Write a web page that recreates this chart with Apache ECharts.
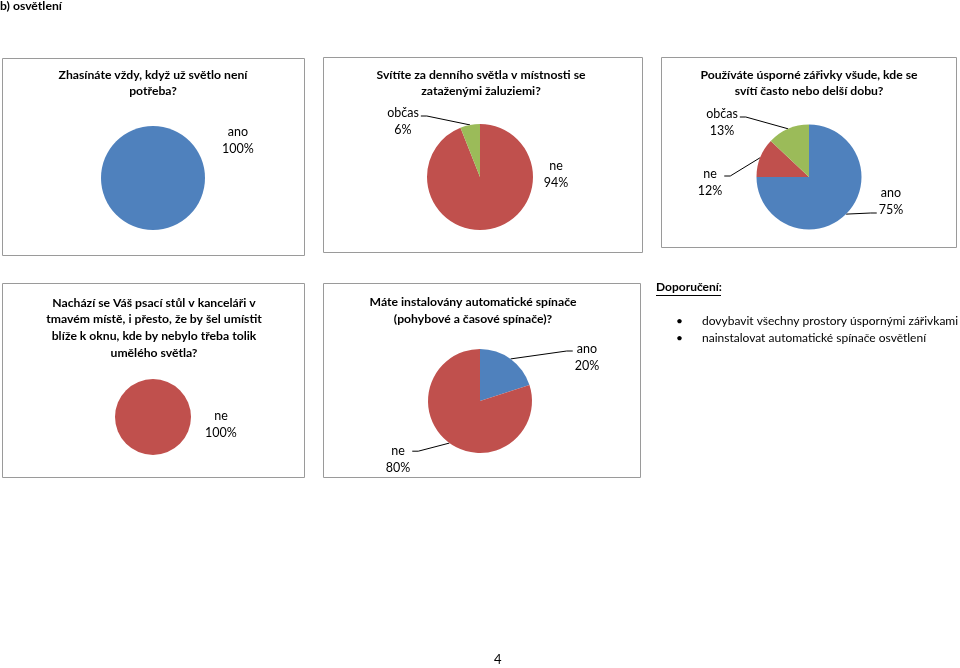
<!DOCTYPE html>
<html>
<head>
<meta charset="utf-8">
<script src="https://cdn.jsdelivr.net/npm/echarts@6/dist/echarts.min.js"></script>
<style>
  html, body { margin: 0; padding: 0; background: #fff; }
  #chart { width: 960px; height: 668px; }
</style>
</head>
<body>
<div id="chart"></div>
<script>
// answers shared by all questions, values in percent
var answers = ['ano', 'ne', 'občas'];
var q1Values = [100, 0, 0];
var q2Values = [0, 94, 6];
var q3Values = [75, 12, 13];
var q4Values = [0, 100, 0];
var q5Values = [20, 80, 0];

var titles = [
    'Zhasínáte vždy, když už světlo není\npotřeba?',
    'Svítíte za denního světla v místnosti se\nzataženými žaluziemi?',
    'Používáte úsporné zářivky všude, kde se\nsvítí často nebo delší dobu?',
    'Nachází se Váš psací stůl v kanceláři v\ntmavém místě, i přesto, že by šel umístit\nblíže k oknu, kde by nebylo třeba tolik\numělého světla?',
    'Máte instalovány automatické spínače\n(pohybové a časové spínače)?'
];
var heading = 'b) osvětlení';
var recoTitle = 'Doporučení:';
var recoItems = [
    'dovybavit všechny prostory úspornými zářivkami',
    'nainstalovat automatické spínače osvětlení'
];
var pageNo = '4';

var colors = { 'ano': '#4F81BD', 'ne': '#C0504D', 'občas': '#9BBB59' };
var font = 'Lato';
var labelLH = 17;

// layout of the panels (label spot = centre of the two-line label, dy = leader y from first line centre)
var panels = [
    { box: [2, 58, 302, 197], title: [153, 66.5], center: [153, 178], r: 52,
      spots: { 'ano': { at: [238, 140] } } },
    { box: [323, 57, 319, 195], title: [481, 66.5], center: [480, 177], r: 53,
      spots: { 'ne': { at: [556, 174] }, 'občas': { at: [403, 121.5], side: 'r', dy: 3 } } },
    { box: [661, 57, 295, 190], title: [809, 66.5], center: [809, 177], r: 52.5,
      spots: { 'ano': { at: [891, 201], side: 'l', dy: 20.5 }, 'ne': { at: [710, 182.5], side: 'r', dy: 2 },
               'občas': { at: [722, 122.5], side: 'r', dy: 3 } } },
    { box: [2, 283, 302, 194], title: [154, 294.5], center: [153, 417], r: 38,
      spots: { 'ne': { at: [221, 424] } } },
    { box: [323, 283, 317, 194], title: [473, 294], center: [480, 401], r: 52,
      spots: { 'ano': { at: [587, 357.5], side: 'l', dy: 2 }, 'ne': { at: [398, 459.7], side: 'r', dy: 0 } } }
];
var valueSets = [q1Values, q2Values, q3Values, q4Values, q5Values];

var chart = echarts.init(document.getElementById('chart'), null, { renderer: 'canvas' });

var series = panels.map(function (p, i) {
    var data = [];
    answers.forEach(function (a, k) {
        var v = valueSets[i][k];
        if (!v) return;
        var s = p.spots[a] || {};
        data.push({
            name: a, value: v,
            itemStyle: { color: colors[a] },
            labelLine: { show: !!s.side }
        });
    });
    return {
        type: 'pie',
        center: p.center,
        radius: p.r,
        startAngle: 90,
        clockwise: true,
        silent: true,
        animation: false,
        itemStyle: { borderWidth: 0 },
        label: {
            show: true, position: 'outside',
            formatter: '{b}\n{d}%',
            fontFamily: font, fontSize: 12.5, lineHeight: labelLH, color: '#000'
        },
        labelLine: { show: true, length: 10, length2: 10, lineStyle: { color: '#000', width: 1 } },
        emphasis: { disabled: true },
        labelLayout: function (prm) {
            var s = p.spots[data[prm.dataIndex].name];
            var w = prm.labelRect.width;
            var out = { x: s.at[0], y: s.at[1], align: 'center', verticalAlign: 'middle' };
            if (s.side && prm.labelLinePoints) {
                var dir = s.side === 'r' ? 1 : -1;
                var ex = s.at[0] + dir * (w / 2 + 2);
                var ay = s.at[1] - labelLH / 2 + (s.dy || 0);
                out.labelLinePoints = [prm.labelLinePoints[0], [ex + dir * 6, ay], [ex, ay]];
            }
            return out;
        },
        data: data
    };
});

var graphics = [];
panels.forEach(function (p, i) {
    graphics.push({
        type: 'rect', silent: true,
        shape: { x: p.box[0] + 0.5, y: p.box[1] + 0.5, width: p.box[2], height: p.box[3] },
        style: { fill: 'none', stroke: '#9a9a9a', lineWidth: 1 }
    });
    graphics.push({
        type: 'text', silent: true,
        style: {
            x: p.title[0], y: p.title[1], text: titles[i],
            textAlign: 'center', textVerticalAlign: 'top',
            fontFamily: font, fontSize: 12.2, fontWeight: 'bold', lineHeight: 16.7, fill: '#000'
        }
    });
});
graphics.push({
    type: 'text', left: 0, top: 0,
    style: { text: heading, fontFamily: font, fontSize: 12.2, fontWeight: 'bold', fill: '#000' }
});
graphics.push({
    type: 'text', left: 656, top: 281,
    style: { text: recoTitle, fontFamily: font, fontSize: 12, fontWeight: 'bold', fill: '#000' }
});
graphics.push({
    type: 'line', shape: { x1: 656, y1: 295.5, x2: 721, y2: 295.5 },
    style: { stroke: '#000', lineWidth: 1 }
});
recoItems.forEach(function (t, i) {
    graphics.push({
        type: 'text', left: 676, top: 315 + i * 17,
        style: { text: '•', fontFamily: font, fontSize: 12, fill: '#000' }
    });
    graphics.push({
        type: 'text', left: 702, top: 315 + i * 17,
        style: { text: t, fontFamily: font, fontSize: 12, fill: '#000' }
    });
});
graphics.push({
    type: 'text', left: 494, top: 653,
    style: { text: pageNo, fontFamily: font, fontSize: 13, fill: '#000' }
});

chart.setOption({
    animation: false,
    series: series,
    graphic: { elements: graphics }
});

window.addEventListener('resize', function () {
    chart.resize();
});
</script>
</body>
</html>
